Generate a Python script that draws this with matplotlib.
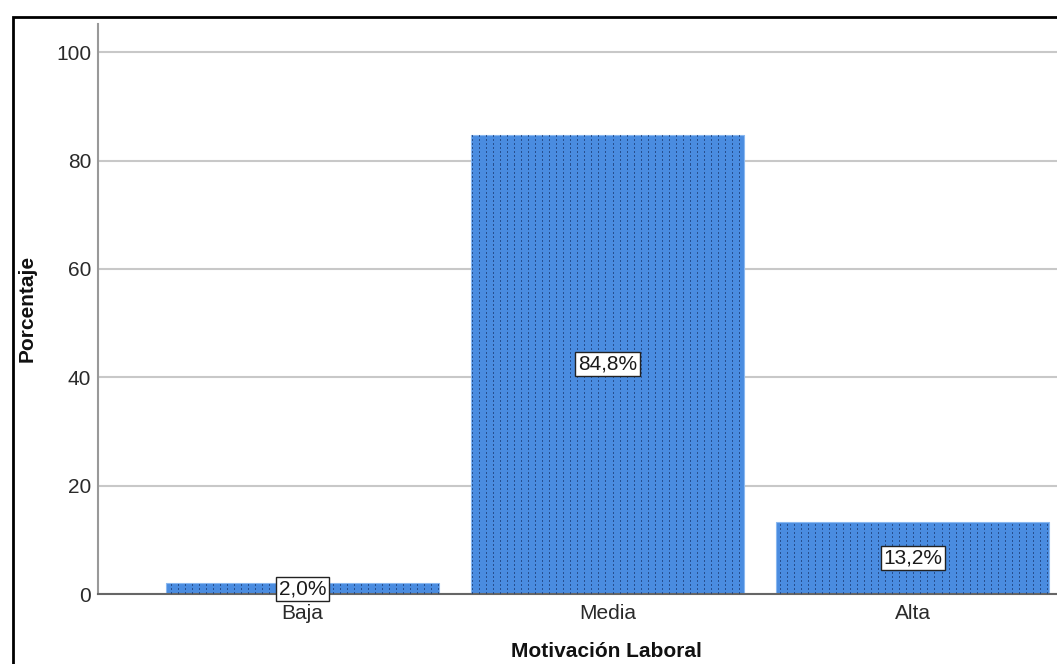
import numpy as np
import matplotlib
matplotlib.use("Agg")
import matplotlib.pyplot as plt
from matplotlib.patches import Rectangle

# Data
categories = ["Baja", "Media", "Alta"]
percentages = [2.0, 84.8, 13.2]
bar_labels = ["2,0%", "84,8%", "13,2%"]
y_ticks = [0, 20, 40, 60, 80, 100]

W, H, DPI = 1057, 664, 100
plt.rcParams["font.family"] = ["Liberation Sans", "DejaVu Sans"]

fig = plt.figure(figsize=(W / DPI, H / DPI), dpi=DPI)
fig.patch.set_facecolor("white")

# Axes placed in pixel terms; the right part runs past the figure edge
ax_left, ax_right, ax_top, ax_bottom = 98, 1117, 24, 594
ax = fig.add_axes([ax_left / W, (H - ax_bottom) / H,
                   (ax_right - ax_left) / W, (ax_bottom - ax_top) / H])

x = np.arange(len(categories))
ax.set_xlim(-0.67, len(categories) - 1 + 0.67)
ax.set_ylim(0, 105.2)

bar_color = "#4a8ce0"
bars = ax.bar(x, percentages, width=0.895, color=bar_color,
              edgecolor="#8ab8f0", linewidth=0.8, zorder=2)

# Dotted texture laid over each bar, clipped to the bar shape
px_w, px_h = ax_right - ax_left, ax_bottom - ax_top
tex = np.zeros((px_h, px_w, 4))
cols = (np.arange(px_w) % 7) == 3
rows = (np.arange(px_h) % 4) < 2
mask = rows[:, None] & cols[None, :]
tex[mask] = [0.13, 0.27, 0.50, 0.85]
for b in bars:
    im = ax.imshow(tex, extent=(*ax.get_xlim(), *ax.get_ylim()),
                   aspect="auto", interpolation="nearest", zorder=3,
                   origin="upper")
    im.set_clip_path(b)

# Value labels in boxes at the middle of each bar
for xi, val, lab in zip(x, percentages, bar_labels):
    ax.text(xi, val / 2, lab, ha="center", va="center", fontsize=15,
            color="#1a1a1a", zorder=5,
            bbox=dict(boxstyle="square,pad=0.12", facecolor="white",
                      edgecolor="#222222", linewidth=1.0))

ax.set_yticks(y_ticks)
ax.set_xticks(x)
ax.set_xticklabels(categories)
ax.tick_params(axis="both", length=0, labelsize=15, colors="#2a2a2a")
ax.tick_params(axis="y", pad=5)
ax.tick_params(axis="x", pad=7)

ax.yaxis.grid(True, color="#c8c8c8", linewidth=1.5, zorder=0)
ax.set_axisbelow(True)

for side in ["top", "right"]:
    ax.spines[side].set_visible(False)
ax.spines["left"].set_color("#999999")
ax.spines["left"].set_linewidth(1.5)
ax.spines["bottom"].set_color("#666666")
ax.spines["bottom"].set_linewidth(1.5)

ax.set_ylabel("Porcentaje", fontsize=15, fontweight="bold", color="#111111")
ax.set_xlabel("Motivación Laboral", fontsize=15, fontweight="bold",
              color="#111111")
ax.xaxis.set_label_coords((606 - ax_left) / px_w, -(642 - ax_bottom) / px_h)
ax.yaxis.set_label_coords(-(ax_left - 37) / px_w, (ax_bottom - 308) / px_h)

# Outer chart frame
fig.add_artist(Rectangle((12.5 / W, -0.5), 2.0, (H - 16.5) / H + 0.5,
                         transform=fig.transFigure, fill=False,
                         edgecolor="black", linewidth=2.0, zorder=10))

fig.savefig("out.png", dpi=DPI, facecolor="white")
